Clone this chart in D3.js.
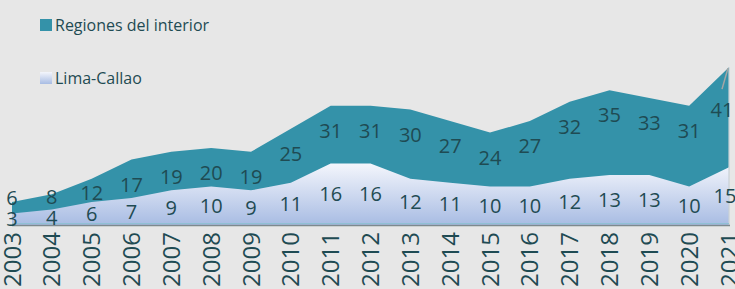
<!DOCTYPE html>
<html>
<head>
<meta charset="utf-8">
<script src="https://cdn.jsdelivr.net/npm/d3@7"></script>
<style>
  html, body { margin: 0; padding: 0; background: #e7e7e7; }
  svg { display: block; }
</style>
</head>
<body>
<div id="chart"></div>
<script>
const years = [2003, 2004, 2005, 2006, 2007, 2008, 2009, 2010, 2011, 2012,
    2013, 2014, 2015, 2016, 2017, 2018, 2019, 2020, 2021];
const regiones = [6, 8, 12, 17, 19, 20, 19, 25, 31, 31, 30, 27, 24, 27, 32, 35, 33, 31, 41];
const lima = [3, 4, 6, 7, 9, 10, 9, 11, 16, 16, 12, 11, 10, 10, 12, 13, 13, 10, 15];
const seriesNames = ["Regiones del interior", "Lima-Callao"];

const drawChart = id => {
    const width = 735;
    const height = 289;
    const textColor = "#1f4b53";
    const teal = "#3492a9";

    const svg = d3.select(id)
        .append("svg")
        .attr("width", width)
        .attr("height", height);

    svg.append("rect")
        .attr("width", width)
        .attr("height", height)
        .attr("fill", "#e7e7e7");

    const defs = svg.append("defs");
    const grad = defs.append("linearGradient")
        .attr("id", "limaGrad")
        .attr("x1", 0).attr("y1", 0)
        .attr("x2", 0).attr("y2", 1);
    grad.append("stop").attr("offset", "0%").attr("stop-color", "#f4f6fc");
    grad.append("stop").attr("offset", "100%").attr("stop-color", "#a8bce3");

    const x = d3.scalePoint()
        .domain(years)
        .range([12, 729]);

    const y = d3.scaleLinear()
        .domain([0, 45])
        .range([225, 225 - 45 * 3.85]);

    const area = vals => d3.area()
        .x((d, i) => x(years[i]))
        .y0(y(0))
        .y1(d => y(d))(vals);

    svg.append("path")
        .attr("d", area(regiones))
        .attr("fill", teal);

    svg.append("path")
        .attr("d", area(lima))
        .attr("fill", "url(#limaGrad)");

    // right edge highlight
    svg.append("line")
        .attr("x1", x(2021)).attr("x2", x(2021))
        .attr("y1", y(regiones[regiones.length - 1])).attr("y2", y(0))
        .attr("stroke", "#c8d0d6")
        .attr("stroke-width", 1.2);

    // baseline
    svg.append("line")
        .attr("x1", x(2003)).attr("x2", x(2021))
        .attr("y1", y(0) - 1.5).attr("y2", y(0) - 1.5)
        .attr("stroke", "#8fc0d4")
        .attr("stroke-width", 1);
    svg.append("line")
        .attr("x1", x(2003)).attr("x2", x(2021) + 1)
        .attr("y1", y(0) + 0.5).attr("y2", y(0) + 0.5)
        .attr("stroke", "#7d8a8e")
        .attr("stroke-width", 1.5);

    // Lima labels: centred in their area
    svg.append("g")
        .selectAll("text")
        .data(lima)
        .join("text")
        .attr("x", (d, i) => x(years[i]) + (i === years.length - 1 ? -4 : 0))
        .attr("y", d => y(d / 2))
        .attr("dy", "0.36em")
        .attr("text-anchor", "middle")
        .attr("font-family", "Open Sans, sans-serif")
        .attr("font-size", 20)
        .attr("fill", textColor)
        .text(d => d);

    // Regiones labels: below the top edge, kept above the Lima label
    const regLabelY = (d, i) => {
        if (i === years.length - 1) return y(d) + 43;
        return Math.min(y(d) + 25, y(lima[i] / 2) - 21);
    };
    svg.append("g")
        .selectAll("text")
        .data(regiones)
        .join("text")
        .attr("x", (d, i) => x(years[i]) + (i === years.length - 1 ? -7 : 0))
        .attr("y", regLabelY)
        .attr("dy", "0.36em")
        .attr("text-anchor", "middle")
        .attr("font-family", "Open Sans, sans-serif")
        .attr("font-size", 20)
        .attr("fill", textColor)
        .text(d => d);

    // leader line for the last label
    const last = regiones.length - 1;
    svg.append("line")
        .attr("x1", x(2021) - 7).attr("y1", y(regiones[last]) + 22)
        .attr("x2", x(2021) - 1).attr("y2", y(regiones[last]) + 1)
        .attr("stroke", "#a5a5a5")
        .attr("stroke-width", 1.5);

    // year axis labels
    svg.append("g")
        .selectAll("text")
        .data(years)
        .join("text")
        .attr("transform", d => `translate(${x(d)}, 232) rotate(-90)`)
        .attr("dy", "0.36em")
        .attr("text-anchor", "end")
        .attr("font-family", "Open Sans, sans-serif")
        .attr("font-size", 24)
        .attr("fill", textColor)
        .text(d => d);

    // legend
    const legend = svg.append("g");
    const items = [
        { name: seriesNames[0], fill: teal, y: 25 },
        { name: seriesNames[1], fill: "url(#limaGrad)", y: 78 }
    ];
    items.forEach(it => {
        legend.append("rect")
            .attr("x", 40).attr("y", it.y - 6)
            .attr("width", 12).attr("height", 12)
            .attr("fill", it.fill);
        legend.append("text")
            .attr("x", 55).attr("y", it.y)
            .attr("dy", "0.36em")
            .attr("font-family", "Open Sans, sans-serif")
            .attr("font-size", 16)
            .attr("fill", textColor)
            .text(it.name);
    });
};

drawChart("#chart");
</script>
</body>
</html>
